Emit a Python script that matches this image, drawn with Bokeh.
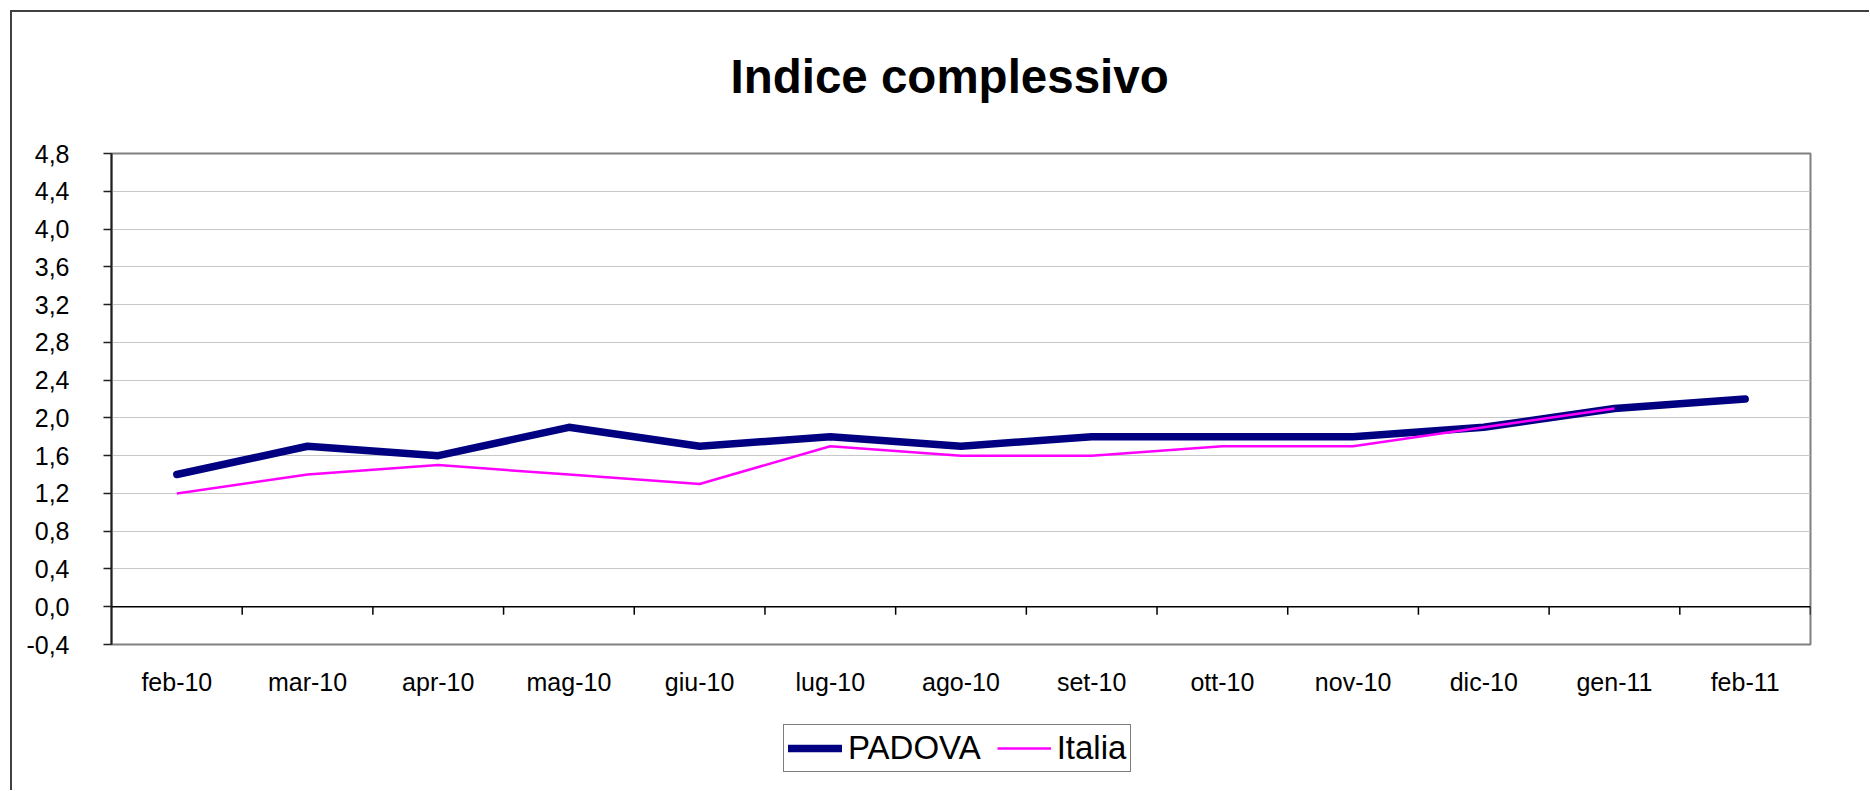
from bokeh.plotting import figure
from bokeh.layouts import column
from bokeh.models import (FactorRange, Range1d, FixedTicker, CustomJSTickFormatter,
                          Span, Legend, LegendItem, Title)
from bokeh.embed import file_html
from bokeh.resources import INLINE

# ---- data ----
title_text = "Indice complessivo"
months = ["feb-10", "mar-10", "apr-10", "mag-10", "giu-10", "lug-10", "ago-10",
          "set-10", "ott-10", "nov-10", "dic-10", "gen-11", "feb-11"]
padova = [1.4, 1.7, 1.6, 1.9, 1.7, 1.8, 1.7, 1.8, 1.8, 1.8, 1.9, 2.1, 2.2]
italia = [1.2, 1.4, 1.5, 1.4, 1.3, 1.7, 1.6, 1.6, 1.7, 1.7, 1.9, 2.1]
y_ticks = [-0.4, 0.0, 0.4, 0.8, 1.2, 1.6, 2.0, 2.4, 2.8, 3.2, 3.6, 4.0, 4.4, 4.8]
series_names = ["PADOVA", "Italia"]
series_colors = ["#000080", "#FF00FF"]
series_widths = [7.5, 2.5]

FONT = "Liberation Sans"
W = 1857

xr = FactorRange(factors=months)

p = figure(width=W, height=700,
           x_range=xr,
           y_range=Range1d(y_ticks[0], y_ticks[-1]),
           output_backend="svg", toolbar_location=None,
           min_border_left=99, min_border_right=59,
           min_border_top=141, min_border_bottom=68)

p.background_fill_color = "white"
p.border_fill_color = "white"
p.outline_line_color = "#808080"
p.outline_line_width = 2

# blank spacer between frame and title (keeps the title high above the plot area)
p.add_layout(Title(text="\u00a0", text_font_size="10px", standoff=33), "above")

# title
p.title.text = title_text
p.title.align = "left"
p.title.offset = 619
p.title.text_font = FONT
p.title.text_font_size = "47.5px"
p.title.text_font_style = "bold"
p.title.text_color = "black"
p.title.standoff = 10

# y axis
tick = FixedTicker(ticks=y_ticks)
p.yaxis.ticker = tick
p.yaxis.formatter = CustomJSTickFormatter(code="return tick.toFixed(1).replace('.', ',');")
p.yaxis.axis_line_color = "#202020"
p.yaxis.axis_line_width = 2
p.yaxis.major_tick_line_color = "#202020"
p.yaxis.major_tick_line_width = 1.5
p.yaxis.major_tick_out = 8
p.yaxis.major_tick_in = 0
p.yaxis.minor_tick_line_color = None
p.yaxis.major_label_standoff = 34
p.yaxis.major_label_text_font = FONT
p.yaxis.major_label_text_font_size = "25px"
p.yaxis.major_label_text_color = "black"

# x axis
p.xaxis.axis_line_color = None
p.xaxis.major_tick_line_color = None
p.xaxis.major_tick_out = 0
p.xaxis.major_tick_in = 0
p.xaxis.major_label_standoff = 23
p.xaxis.major_label_text_font = FONT
p.xaxis.major_label_text_font_size = "25px"
p.xaxis.major_label_text_color = "black"

# grid
p.xgrid.grid_line_color = None
p.ygrid.ticker = tick
p.ygrid.grid_line_color = "#c8c8c8"
p.ygrid.grid_line_width = 1

# zero line with category-boundary ticks
p.add_layout(Span(location=0, dimension="width", line_color="black", line_width=1.5))
bounds = list(range(1, len(months) + 1))
p.segment(x0=bounds, y0=[0] * len(bounds), x1=bounds, y1=[-0.085] * len(bounds),
          line_color="black", line_width=1.5)

r1 = p.line(months, padova, line_color=series_colors[0], line_width=series_widths[0],
            line_join="round", line_cap="round")
r2 = p.line(months[:len(italia)], italia, line_color=series_colors[1],
            line_width=series_widths[1])

# ---- legend strip below the chart (series drawn out of view, used as legend keys) ----
lg = figure(width=W, height=78, x_range=xr, y_range=Range1d(100, 101),
            output_backend="svg", toolbar_location=None, min_border=0)
lg.axis.visible = False
lg.grid.visible = False
lg.outline_line_color = None
lg.background_fill_color = "white"
lg.border_fill_color = "white"
k1 = lg.line(months, padova, line_color=series_colors[0], line_width=series_widths[0],
             line_cap="round")
k2 = lg.line(months[:len(italia)], italia, line_color=series_colors[1],
             line_width=series_widths[1])

legend = Legend(items=[LegendItem(label=series_names[0], renderers=[k1]),
                       LegendItem(label=series_names[1], renderers=[k2])],
                orientation="horizontal", location=(672, 18))
legend.margin = 0
legend.padding = 4
legend.spacing = 16
legend.label_standoff = 6
legend.glyph_width = 54
legend.glyph_height = 30
legend.label_text_font = FONT
legend.label_text_font_size = "33px"
legend.label_text_color = "black"
legend.border_line_color = "black"
legend.border_line_width = 1
legend.background_fill_color = "white"
legend.background_fill_alpha = 1
lg.add_layout(legend, "center")

layout = column(p, lg, spacing=0,
                styles={"margin-left": "10px", "margin-top": "10px",
                        "border-top": "2px solid #404040",
                        "border-left": "2px solid #404040"})

open("out.html", "w").write(file_html(layout, INLINE))
